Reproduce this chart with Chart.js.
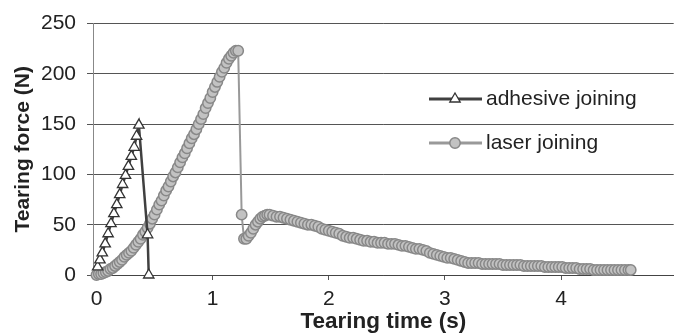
<!DOCTYPE html>
<html><head><meta charset="utf-8">
<script src="https://cdn.jsdelivr.net/npm/chart.js@4/dist/chart.umd.min.js"></script>
<style>html,body{margin:0;padding:0;background:#fff}#wrap{width:681px;height:335px}</style>
</head><body><div id="wrap"><canvas id="c" width="681" height="335"></canvas></div>
<script>
const seriesNames = ['adhesive joining', 'laser joining'];
const xTitle = 'Tearing time (s)';
const yTitle = 'Tearing force (N)';
const xTickValues = [0, 1, 2, 3, 4];
const yTickValues = [0, 50, 100, 150, 200, 250];

const adhesiveTime  = [0.01, 0.03, 0.05, 0.075, 0.10, 0.125, 0.15, 0.175, 0.20, 0.225, 0.25, 0.275, 0.30, 0.325, 0.345, 0.365, 0.44, 0.45];
const adhesiveForce = [8, 15, 22, 31, 41, 51, 61, 70, 80, 90, 99, 108, 118, 127, 138, 149, 40, 0];

const laserTime = [
  0.00, 0.02, 0.04, 0.06, 0.08, 0.10, 0.12, 0.14, 0.16, 0.18, 0.20, 0.22, 0.24, 0.26, 0.28,
  0.30, 0.32, 0.34, 0.36, 0.38, 0.40, 0.42, 0.44, 0.46, 0.48, 0.50, 0.52, 0.54, 0.56, 0.58,
  0.60, 0.62, 0.64, 0.66, 0.68, 0.70, 0.72, 0.74, 0.76, 0.78, 0.80, 0.82, 0.84, 0.86, 0.88,
  0.90, 0.92, 0.94, 0.96, 0.98, 1.00, 1.02, 1.04, 1.06, 1.08, 1.10, 1.12, 1.14, 1.16, 1.18,
  1.20, 1.22,
  1.25, 1.27, 1.29, 1.31, 1.33, 1.35, 1.37, 1.39, 1.41, 1.43, 1.45, 1.47, 1.49,
  1.52, 1.55, 1.58, 1.61, 1.64, 1.67, 1.70, 1.73, 1.76, 1.79, 1.82, 1.85, 1.88, 1.91, 1.94,
  1.97, 2.00, 2.03, 2.06, 2.09, 2.12, 2.15, 2.18, 2.21, 2.24, 2.27, 2.30, 2.33, 2.36, 2.39,
  2.42, 2.45, 2.48, 2.51, 2.54, 2.57, 2.60, 2.63, 2.66, 2.69, 2.72, 2.75, 2.78, 2.81, 2.84,
  2.87, 2.90, 2.93, 2.96, 2.99, 3.02, 3.05, 3.08, 3.11, 3.14, 3.17, 3.20, 3.23, 3.26, 3.29,
  3.32, 3.35, 3.38, 3.41, 3.44, 3.47, 3.50, 3.53, 3.56, 3.59, 3.62, 3.65, 3.68, 3.71, 3.74,
  3.77, 3.80, 3.83, 3.86, 3.89, 3.92, 3.95, 3.98, 4.01, 4.04, 4.07, 4.10, 4.13, 4.16, 4.19,
  4.22, 4.25, 4.28, 4.31, 4.34, 4.37, 4.40, 4.43, 4.46, 4.49, 4.52, 4.55, 4.58, 4.60
];
const laserForce = [
  0, 1, 1, 2, 3, 4, 6, 7, 9, 11, 13, 15, 18, 20, 22,
  24, 27, 30, 33, 36, 40, 43, 47, 51, 56, 60, 65, 70, 74, 79,
  84, 88, 93, 98, 102, 107, 112, 117, 121, 126, 131, 136, 140, 145, 150,
  155, 160, 166, 171, 176, 182, 187, 192, 197, 202, 206, 211, 215, 218, 221,
  223, 223,
  60, 36, 36, 39, 42, 46, 50, 53, 56, 58, 59, 60, 60,
  59, 58, 58, 57, 56, 55, 54, 53, 52, 51, 50, 50, 49, 48, 46,
  45, 44, 43, 42, 41, 39, 38, 37, 37, 36, 35, 34, 34, 33, 33,
  32, 32, 32, 31, 31, 31, 30, 29, 29, 28, 27, 26, 26, 25, 24,
  22, 21, 20, 19, 18, 17, 17, 16, 15, 14, 13, 12, 12, 12, 12,
  11, 11, 11, 11, 11, 11, 10, 10, 10, 10, 10, 10, 9, 9, 9,
  9, 9, 9, 8, 8, 8, 8, 8, 8, 7, 7, 7, 7, 6, 6,
  6, 6, 5, 5, 5, 5, 5, 5, 5, 5, 5, 5, 5, 5
];

const FONT = '"Liberation Sans", Arial, sans-serif';
const TEXT = '#222222';

const adhesiveStyle = { line: '#404040', pointStyle: 'triangle', radius: 6, fill: '#ffffff', border: '#333333', borderWidth: 1.3, lineWidth: 2.5 };
const laserStyle = { line: '#999999', pointStyle: 'circle', radius: 5.2, fill: '#c2c2c2', border: '#888888', borderWidth: 1.5, lineWidth: 2 };

function pairs(xs, ys) { return xs.map((x, i) => ({ x: x, y: ys[i] })); }

const legendPlugin = {
  id: 'inLegend',
  afterDraw(chart) {
    const ctx = chart.ctx;
    const entries = [
      { name: seriesNames[0], s: adhesiveStyle, y: 99 },
      { name: seriesNames[1], s: laserStyle, y: 143 }
    ];
    ctx.save();
    entries.forEach(e => {
      ctx.beginPath();
      ctx.strokeStyle = e.s.line;
      ctx.lineWidth = 3;
      ctx.moveTo(429, e.y); ctx.lineTo(482, e.y);
      ctx.stroke();
      ctx.fillStyle = e.s.fill;
      ctx.strokeStyle = e.s.border;
      ctx.lineWidth = e.s.borderWidth;
      Chart.helpers.drawPoint(ctx, { pointStyle: e.s.pointStyle, radius: e.s.radius, borderWidth: e.s.borderWidth, rotation: 0 }, 455, e.y);
      ctx.fillStyle = TEXT;
      ctx.font = '21px ' + FONT;
      ctx.textBaseline = 'middle';
      ctx.textAlign = 'left';
      ctx.fillText(e.name, 486, e.y);
    });
    ctx.restore();
  }
};

new Chart(document.getElementById('c'), {
  type: 'line',
  data: {
    datasets: [
      {
        label: seriesNames[0],
        data: pairs(adhesiveTime, adhesiveForce),
        borderColor: adhesiveStyle.line, borderWidth: adhesiveStyle.lineWidth,
        pointStyle: adhesiveStyle.pointStyle, pointRadius: adhesiveStyle.radius,
        pointBackgroundColor: adhesiveStyle.fill, pointBorderColor: adhesiveStyle.border,
        pointBorderWidth: adhesiveStyle.borderWidth,
        tension: 0, clip: false, fill: false
      },
      {
        label: seriesNames[1],
        data: pairs(laserTime, laserForce),
        borderColor: laserStyle.line, borderWidth: laserStyle.lineWidth,
        pointStyle: laserStyle.pointStyle, pointRadius: laserStyle.radius,
        pointBackgroundColor: laserStyle.fill, pointBorderColor: laserStyle.border,
        pointBorderWidth: laserStyle.borderWidth,
        tension: 0, clip: false, fill: false
      }
    ]
  },
  options: {
    responsive: false, animation: false, devicePixelRatio: 1,
    layout: { padding: { top: 18, right: 0, left: 0, bottom: 0 } },
    plugins: { legend: { display: false }, tooltip: { enabled: false }, title: { display: false } },
    scales: {
      x: {
        type: 'linear', min: -0.03, max: 4.97,
        afterBuildTicks: s => { s.ticks = xTickValues.map(v => ({ value: v })); },
        afterFit: s => { s.height = 60; },
        grid: { drawOnChartArea: false, drawTicks: true, tickLength: 5, color: '#555555', lineWidth: 1 },
        border: { display: true, color: '#444444', width: 1 },
        ticks: { color: TEXT, font: { family: FONT, size: 21 }, padding: 7, maxRotation: 0 },
        title: { display: true, text: xTitle, color: TEXT, font: { family: FONT, size: 22.5, weight: 'bold' }, padding: { top: 0, bottom: 0 } }
      },
      y: {
        type: 'linear', min: 0, max: 250,
        afterBuildTicks: s => { s.ticks = yTickValues.map(v => ({ value: v })); },
        afterFit: s => { s.width = 93; },
        grid: { drawTicks: true, tickLength: 6, color: '#555555', lineWidth: 1 },
        border: { display: true, color: '#888888', width: 1 },
        ticks: { color: TEXT, font: { family: FONT, size: 21 }, padding: 11 },
        title: { display: true, text: yTitle, color: TEXT, font: { family: FONT, size: 21, weight: 'bold' }, padding: { top: 11, bottom: 0 } }
      }
    }
  },
  plugins: [legendPlugin]
});
</script></body></html>
